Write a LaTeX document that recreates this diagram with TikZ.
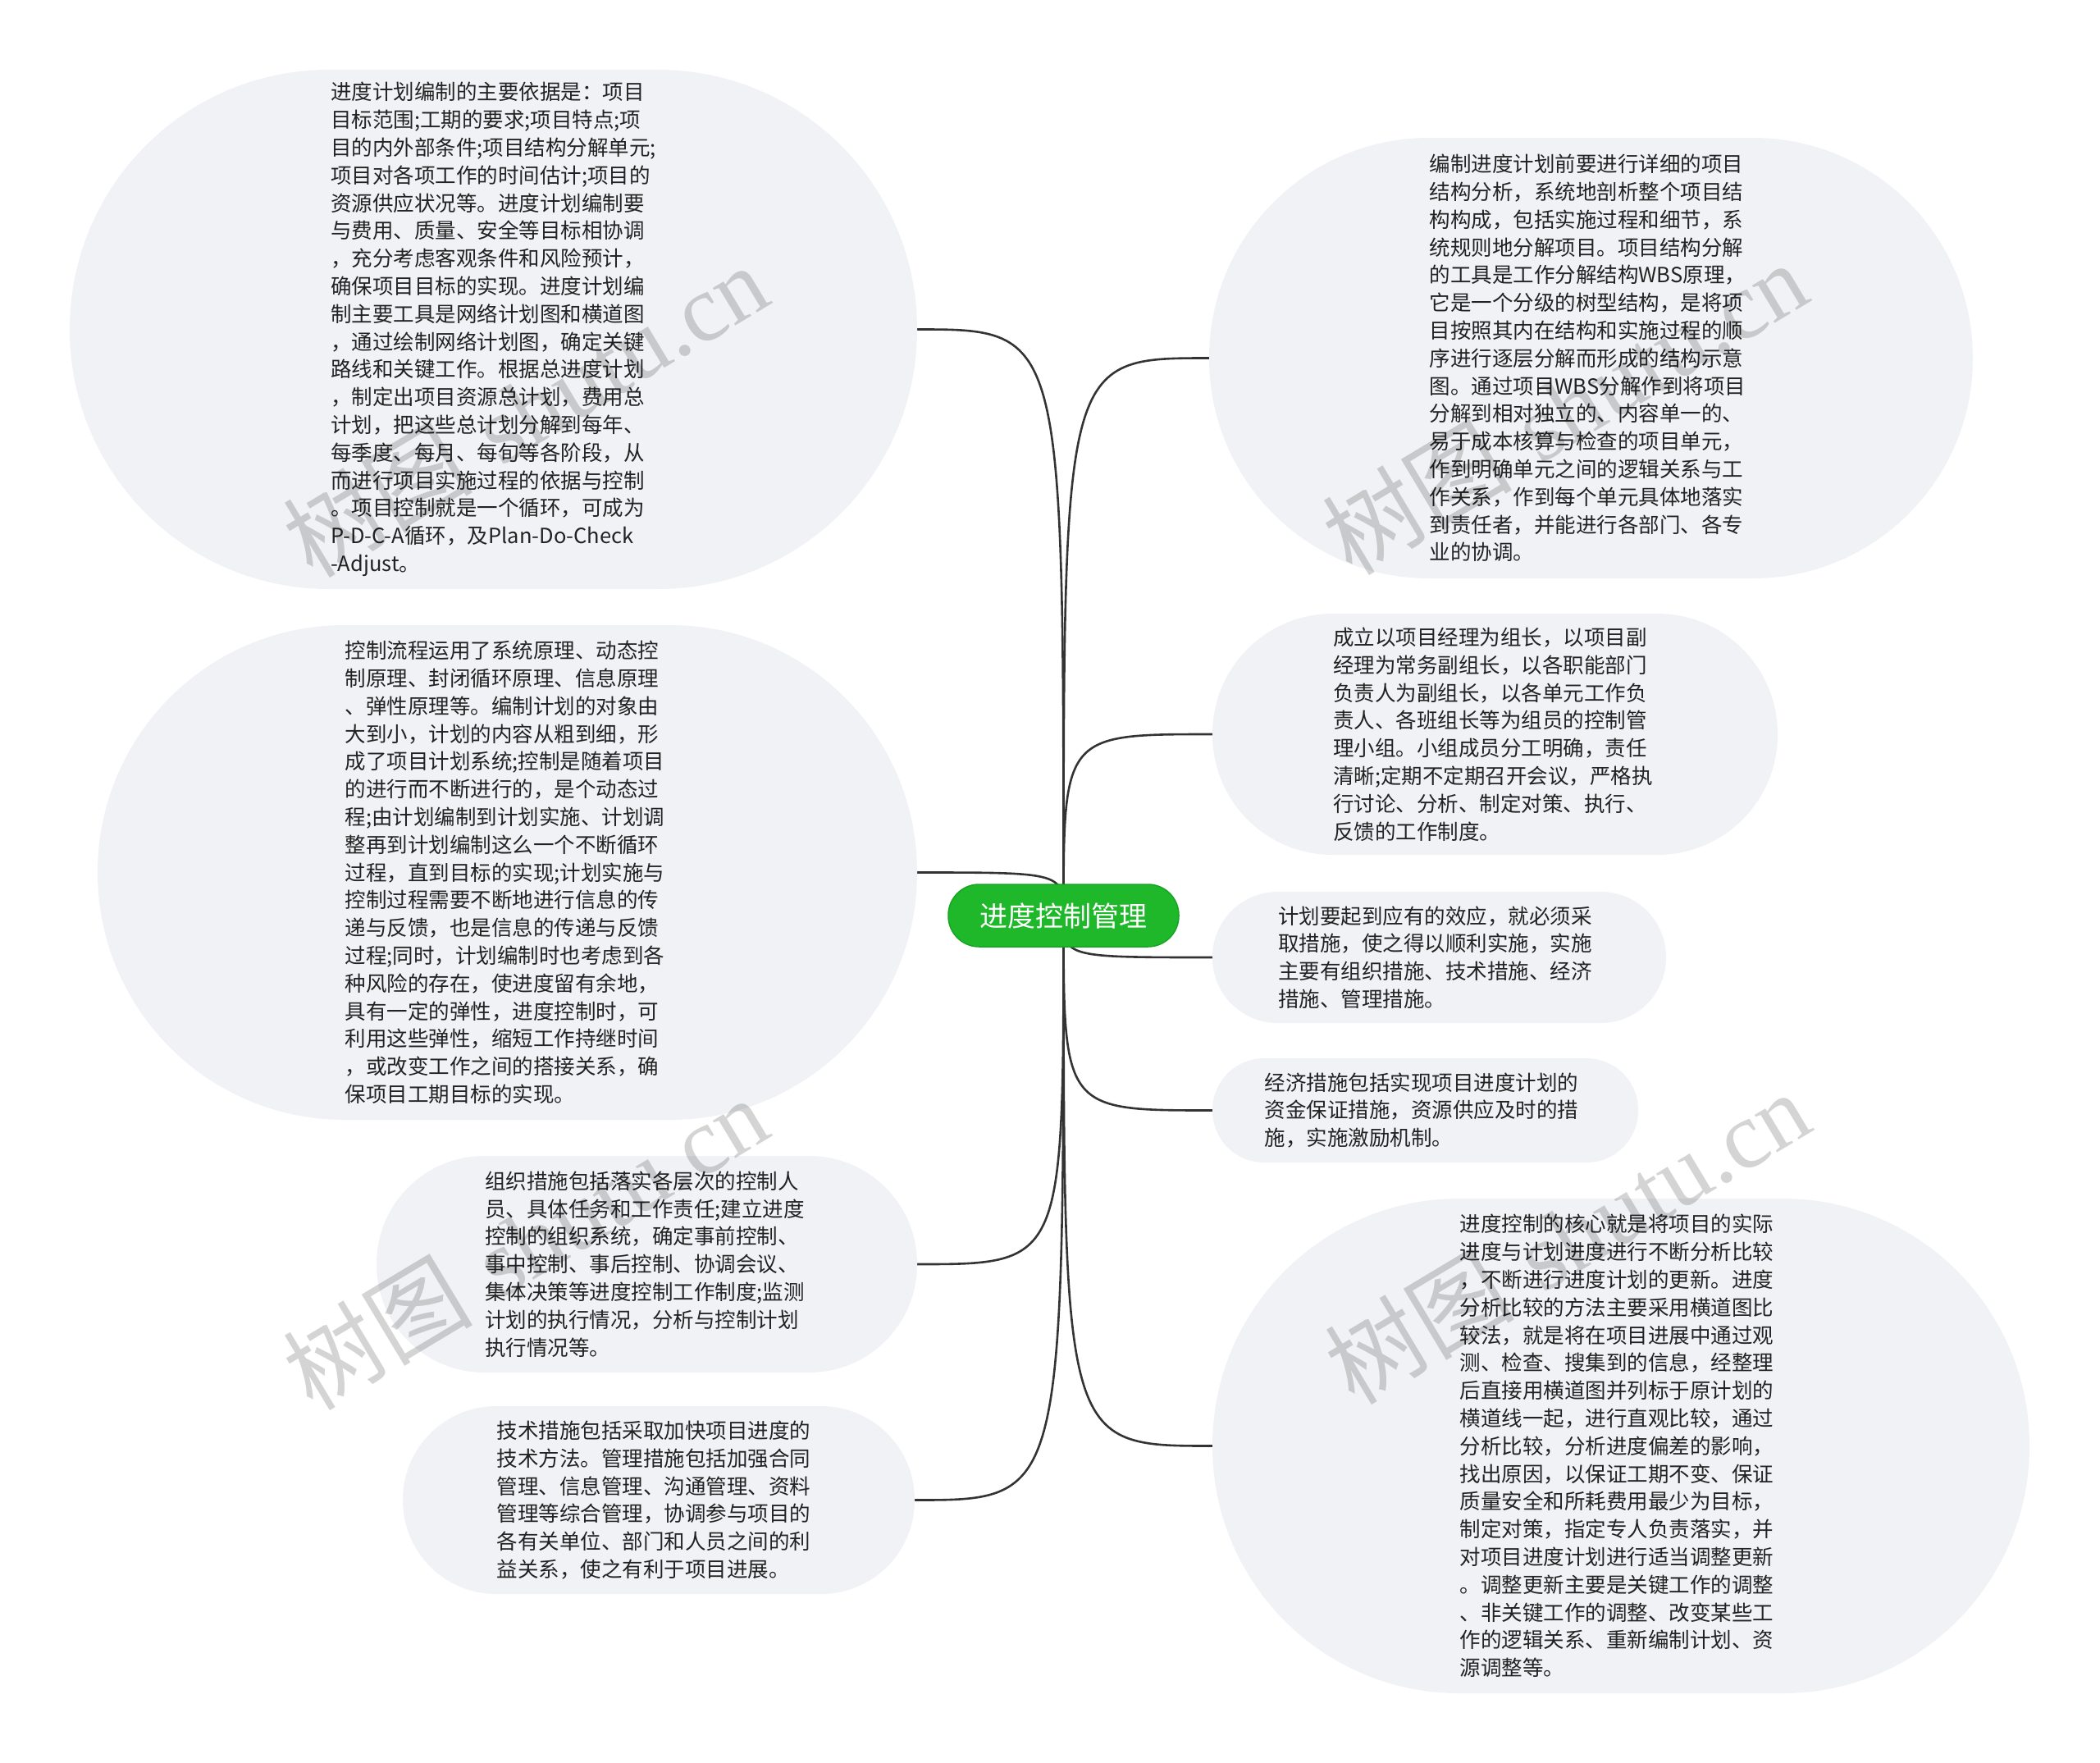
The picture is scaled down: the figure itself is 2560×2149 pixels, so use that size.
\documentclass[tikz,border=0pt]{standalone}
\usepackage{fontspec}
\newfontfamily\cjk{Noto Sans CJK SC}
\newfontfamily\wmserif{Liberation Serif}
\usetikzlibrary{backgrounds}
\definecolor{bubblefill}{HTML}{F0F2F5}
\definecolor{rootgreen}{HTML}{1FB82A}
\definecolor{rootborder}{HTML}{18A523}
\definecolor{linkcol}{HTML}{333333}
\definecolor{txtcol}{HTML}{222222}
\tikzset{
  bubble/.style={fill=bubblefill, draw=none, inner sep=0pt, align=left, text=txtcol,
    font=\cjk\fontsize{25.5pt}{33.8pt}\selectfont},
  rootnode/.style={fill=rootgreen, draw=rootborder, line width=1.5pt, inner sep=0pt,
    rounded corners=37.5pt, minimum width=281pt, minimum height=76pt, text=white,
    font=\cjk\fontsize{34pt}{40pt}\selectfont},
  link/.style={draw=linkcol, line width=2.6pt},
  wmark/.style={text=black, opacity=0.17, rotate=31, inner sep=0pt,
    font=\fontsize{116pt}{124pt}\selectfont}
}
\begin{document}
\begin{tikzpicture}[x=1pt,y=-1pt]
\useasboundingbox (0,0) rectangle (2560,2149);

% left bubbles
\node[bubble, minimum width=1033pt, minimum height=633pt, rounded corners=316pt, text width=397pt] (tl) at (601.5,401.5) {%
进度计划编制的主要依据是：项目\\
目标范围;工期的要求;项目特点;项\\
目的内外部条件;项目结构分解单元;\\
项目对各项工作的时间估计;项目的\\
资源供应状况等。进度计划编制要\\
与费用、质量、安全等目标相协调\\
，充分考虑客观条件和风险预计，\\
确保项目目标的实现。进度计划编\\
制主要工具是网络计划图和横道图\\
，通过绘制网络计划图，确定关键\\
路线和关键工作。根据总进度计划\\
，制定出项目资源总计划，费用总\\
计划，把这些总计划分解到每年、\\
每季度、每月、每旬等各阶段，从\\
而进行项目实施过程的依据与控制\\
。项目控制就是一个循环，可成为\\
P-D-C-A循环，及Plan-Do-Check\\
-Adjust。};

\node[bubble, minimum width=999pt, minimum height=603pt, rounded corners=301pt, text width=396pt] (ml) at (618.5,1063.5) {%
控制流程运用了系统原理、动态控\\
制原理、封闭循环原理、信息原理\\
、弹性原理等。编制计划的对象由\\
大到小，计划的内容从粗到细，形\\
成了项目计划系统;控制是随着项目\\
的进行而不断进行的，是个动态过\\
程;由计划编制到计划实施、计划调\\
整再到计划编制这么一个不断循环\\
过程，直到目标的实现;计划实施与\\
控制过程需要不断地进行信息的传\\
递与反馈，也是信息的传递与反馈\\
过程;同时，计划编制时也考虑到各\\
种风险的存在，使进度留有余地，\\
具有一定的弹性，进度控制时，可\\
利用这些弹性，缩短工作持继时间\\
，或改变工作之间的搭接关系，确\\
保项目工期目标的实现。};

\node[bubble, minimum width=659pt, minimum height=264pt, rounded corners=131.5pt, text width=395pt] (lfour) at (788.5,1541) {%
组织措施包括落实各层次的控制人\\
员、具体任务和工作责任;建立进度\\
控制的组织系统，确定事前控制、\\
事中控制、事后控制、协调会议、\\
集体决策等进度控制工作制度;监测\\
计划的执行情况，分析与控制计划\\
执行情况等。};

\node[bubble, minimum width=624pt, minimum height=229pt, rounded corners=114pt, text width=395pt] (lfive) at (803,1828.5) {%
技术措施包括采取加快项目进度的\\
技术方法。管理措施包括加强合同\\
管理、信息管理、沟通管理、资料\\
管理等综合管理，协调参与项目的\\
各有关单位、部门和人员之间的利\\
益关系，使之有利于项目进展。};

% right bubbles
\node[bubble, minimum width=931pt, minimum height=537pt, rounded corners=268pt, text width=394pt] (tr) at (1939.5,436.5) {%
编制进度计划前要进行详细的项目\\
结构分析，系统地剖析整个项目结\\
构构成，包括实施过程和细节，系\\
统规则地分解项目。项目结构分解\\
的工具是工作分解结构WBS原理，\\
它是一个分级的树型结构，是将项\\
目按照其内在结构和实施过程的顺\\
序进行逐层分解而形成的结构示意\\
图。通过项目WBS分解作到将项目\\
分解到相对独立的、内容单一的、\\
易于成本核算与检查的项目单元，\\
作到明确单元之间的逻辑关系与工\\
作关系，作到每个单元具体地落实\\
到责任者，并能进行各部门、各专\\
业的协调。};

\node[bubble, minimum width=689pt, minimum height=294pt, rounded corners=146.5pt, text width=395pt] (rtwo) at (1822.5,895) {%
成立以项目经理为组长，以项目副\\
经理为常务副组长，以各职能部门\\
负责人为副组长，以各单元工作负\\
责人、各班组长等为组员的控制管\\
理小组。小组成员分工明确，责任\\
清晰;定期不定期召开会议，严格执\\
行讨论、分析、制定对策、执行、\\
反馈的工作制度。};

\node[bubble, minimum width=553pt, minimum height=160pt, rounded corners=79.5pt, text width=393pt] (rthree) at (1754.5,1167) {%
计划要起到应有的效应，就必须采\\
取措施，使之得以顺利实施，实施\\
主要有组织措施、技术措施、经济\\
措施、管理措施。};

\node[bubble, minimum width=519pt, minimum height=127pt, rounded corners=63pt, text width=392pt] (rfour) at (1737.5,1353.5) {%
经济措施包括实现项目进度计划的\\
资金保证措施，资源供应及时的措\\
施，实施激励机制。};

\node[bubble, minimum width=996pt, minimum height=603pt, rounded corners=301pt, text width=393pt] (rfive) at (1976,1762.5) {%
进度控制的核心就是将项目的实际\\
进度与计划进度进行不断分析比较\\
，不断进行进度计划的更新。进度\\
分析比较的方法主要采用横道图比\\
较法，就是将在项目进展中通过观\\
测、检查、搜集到的信息，经整理\\
后直接用横道图并列标于原计划的\\
横道线一起，进行直观比较，通过\\
分析比较，分析进度偏差的影响，\\
找出原因，以保证工期不变、保证\\
质量安全和所耗费用最少为目标，\\
制定对策，指定专人负责落实，并\\
对项目进度计划进行适当调整更新\\
。调整更新主要是关键工作的调整\\
、非关键工作的调整、改变某些工\\
作的逻辑关系、重新编制计划、资\\
源调整等。};

% root
\node[rootnode] (root) at (1296.5,1116) {进度控制管理};

% connectors
\begin{scope}[on background layer]
\foreach \n/\a in {tl/east, ml/east, lfour/east, lfive/east, tr/west, rtwo/west, rthree/west, rfour/west, rfive/west}
  \draw[link] (root.center) .. controls (root.center |- \n.\a) and (root.center |- \n.\a) .. (\n.\a);
\end{scope}

% watermarks
\node[wmark] (wa) at (640,500) {{\cjk 树图} {\wmserif shutu.cn}};
\node[wmark] (wb) at (1907,497) {{\cjk 树图} {\wmserif shutu.cn}};
\node[wmark] (wc) at (640,1515) {{\cjk 树图} {\wmserif shutu.cn}};
\node[wmark] (wd) at (1910,1508) {{\cjk 树图} {\wmserif shutu.cn}};
\end{tikzpicture}
\end{document}
